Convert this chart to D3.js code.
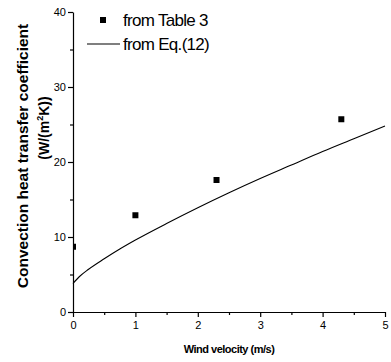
<!DOCTYPE html>
<html><head><meta charset="utf-8">
<script src="https://cdn.jsdelivr.net/npm/d3@7"></script>
<style>body{margin:0;background:#fff;}svg{display:block;font-family:"Liberation Sans",Arial,sans-serif;}</style>
</head><body><svg id="c" width="391" height="362"></svg>
<script>
const tableV = [0, 1, 2.3, 4.3];
const tableH = [8.7, 12.9, 17.6, 25.7];
const eqV = [0, 0.1, 0.25, 0.5, 0.75, 1, 1.5, 2, 2.5, 3, 3.5, 4, 4.5, 5];
const eqH = [3.8, 4.7, 5.7, 7.1, 8.4, 9.6, 11.8, 13.9, 15.9, 17.8, 19.6, 21.4, 23.1, 24.8];
const xTicks = [0, 1, 2, 3, 4, 5];
const yTicks = [0, 10, 20, 30, 40];
const legendLabels = ["from Table 3", "from Eq.(12)"];

const svg = d3.select("#c");
const x = d3.scaleLinear().domain([0, 5]).range([73, 385]);
const y = d3.scaleLinear().domain([0, 40]).range([312, 12]);

svg.append("defs").append("clipPath").attr("id", "plot")
  .append("rect").attr("x", x(0)).attr("y", 0).attr("width", 391 - x(0)).attr("height", y(0));

// axes
svg.append("g").attr("transform", `translate(0,${y(0)})`)
  .call(d3.axisBottom(x).tickValues(xTicks).tickFormat(d3.format("d")).tickSizeInner(5).tickSizeOuter(0).tickPadding(4));
svg.append("g").attr("transform", `translate(0,${y(0)})`)
  .call(d3.axisBottom(x).tickValues(d3.range(0.5, 5, 1)).tickFormat("").tickSizeInner(3).tickSizeOuter(0))
  .select(".domain").remove();
svg.append("g").attr("transform", `translate(${x(0)},0)`)
  .call(d3.axisLeft(y).tickValues(yTicks).tickFormat(d3.format("d")).tickSizeInner(5).tickSizeOuter(0).tickPadding(2));
svg.append("g").attr("transform", `translate(${x(0)},0)`)
  .call(d3.axisLeft(y).tickValues(d3.range(5, 40, 10)).tickFormat("").tickSizeInner(3).tickSizeOuter(0))
  .select(".domain").remove();
svg.selectAll(".tick text").attr("font-size", 11).attr("font-family", "Liberation Sans, Arial, sans-serif").attr("fill", "#000");
svg.selectAll(".domain, .tick line").attr("stroke", "#000").attr("stroke-width", 1.2);

// curve
const line = d3.line().x((d, i) => x(eqV[i])).y((d, i) => y(eqH[i])).curve(d3.curveMonotoneX);
svg.append("path").datum(eqV).attr("d", line).attr("fill", "none").attr("stroke", "#000").attr("stroke-width", 1.1);

// points (clipped to plot area)
svg.append("g").attr("clip-path", "url(#plot)")
  .selectAll("rect.pt").data(tableV).enter().append("rect").attr("class", "pt")
  .attr("x", (d) => x(d) - 3).attr("y", (d, i) => y(tableH[i]) - 3)
  .attr("width", 6).attr("height", 6).attr("fill", "#000");

// legend
svg.append("rect").attr("x", 100).attr("y", 17).attr("width", 6).attr("height", 6).attr("fill", "#000");
svg.append("line").attr("x1", 87).attr("x2", 120).attr("y1", 44).attr("y2", 44).attr("stroke", "#000").attr("stroke-width", 1.1);
svg.append("text").attr("x", 123).attr("y", 26).attr("font-size", 17).attr("letter-spacing", -0.7).text(legendLabels[0]);
svg.append("text").attr("x", 123).attr("y", 50).attr("font-size", 17).attr("letter-spacing", -0.7).text(legendLabels[1]);

// axis titles
svg.append("text").attr("transform", "translate(28,156) rotate(-90)").attr("text-anchor", "middle")
  .attr("font-size", 15.5).attr("font-weight", "bold").text("Convection heat transfer coefficient");
const t2 = svg.append("text").attr("transform", "translate(49,128) rotate(-90)").attr("text-anchor", "middle")
  .attr("font-size", 14).attr("font-weight", "bold");
t2.append("tspan").text("(W/(m");
t2.append("tspan").attr("font-size", 9).attr("dy", -6).text("2");
t2.append("tspan").attr("dy", 6).text("K))");
svg.append("text").attr("x", 229).attr("y", 353).attr("text-anchor", "middle")
  .attr("font-size", 11).attr("font-weight", "bold").attr("letter-spacing", -0.5).text("Wind velocity (m/s)");
</script></body></html>
